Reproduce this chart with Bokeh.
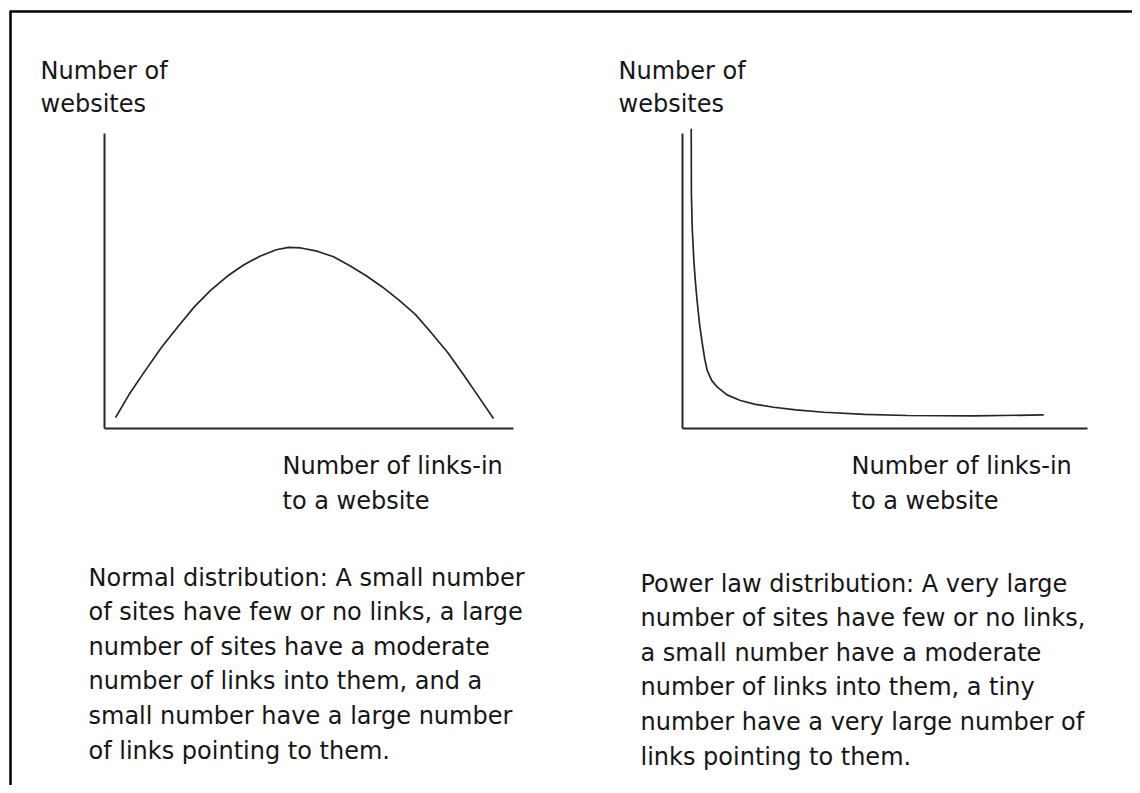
from bokeh.plotting import figure
from bokeh.models import Range1d, Label
from bokeh.embed import file_html
from bokeh.resources import INLINE

# ---------------- data ----------------
# Left chart: normal distribution (x: links-in, y: number of websites), 0..100 units
normal_x = [2.7, 6, 10, 14, 18, 22, 26, 30, 34, 38, 42, 45, 48, 52, 56, 60,
            64, 68, 72, 76, 80, 84, 88, 92, 95.1]
normal_y = [3.7, 11.5, 19.7, 27.6, 34.6, 41.3, 46.9, 51.6, 55.4, 58.4, 60.6, 61.4,
            61.2, 60.1, 58.2, 55.2, 51.8, 47.9, 43.5, 38.7, 32.3, 25.6, 17.8, 9.7, 3.4]

# Right chart: power law distribution, 0..100 units
power_x = [2.15, 2.2, 2.4, 2.8, 3.2, 3.6, 4.2, 4.9, 5.5, 6.1, 7.2, 8.6, 11, 14.3,
           18, 22.5, 28, 34.9, 45, 55.5, 72, 89.2]
power_y = [101.6, 79.5, 68, 56.9, 49.5, 43.4, 35.5, 28.7, 23.5, 19.7, 16.3, 14.0,
           11.4, 9.5, 8.2, 7.2, 6.3, 5.5, 4.8, 4.4, 4.3, 4.6]

y_title = ["Number of", "websites"]
x_title = ["Number of links-in", "to a website"]
normal_caption = [
    "Normal distribution: A small number",
    "of sites have few or no links, a large",
    "number of sites have a moderate",
    "number of links into them, and a",
    "small number have a large number",
    "of links pointing to them.",
]
power_caption = [
    "Power law distribution: A very large",
    "number of sites have few or no links,",
    "a small number have a moderate",
    "number of links into them, a tiny",
    "number have a very large number of",
    "links pointing to them.",
]

# ---------------- layout ----------------
W, H = 1132, 785
OFF = 0                   # picture -> plot pixel offset
FONT = "DejaVu Sans"
FS = "24px"
TXT = "#161616"
INK = "#262626"

p = figure(width=W, height=H, output_backend="svg", toolbar_location=None,
           x_range=Range1d(0, W), y_range=Range1d(H, 0),
           x_axis_location=None, y_axis_location=None, min_border=0,
           background_fill_color="white", border_fill_color="white")
p.grid.visible = False
p.outline_line_color = None


def add_panel_ranges(name, left, right, top, bottom):
    """Ranges mapping 0..100 data units onto a picture-pixel box."""
    l, r, t, b = left - OFF, right - OFF, top - OFF, bottom - OFF
    sx = 100.0 / (r - l)
    sy = 100.0 / (b - t)
    p.extra_x_ranges[name + "x"] = Range1d(-l * sx, (W - l) * sx)
    p.extra_y_ranges[name + "y"] = Range1d((b - H) * sy, b * sy)


panels = [
    dict(name="L", box=(104, 513, 133, 428), xs=normal_x, ys=normal_y,
         ytxt=(40, [70, 103]), xtxt=(282, [465, 500]),
         cap=(88, 577, normal_caption)),
    dict(name="R", box=(682, 1087, 133, 428), xs=power_x, ys=power_y,
         ytxt=(618, [70, 103]), xtxt=(851, [465, 500]),
         cap=(640, 583, power_caption)),
]

# outer frame (top and left edges)
p.segment(x0=[9, 10], y0=[11, 11], x1=[W, 10], y1=[11, H],
          line_color="black", line_width=2.5)

for pn in panels:
    n = pn["name"]
    add_panel_ranges(n, *pn["box"])
    kw = dict(x_range_name=n + "x", y_range_name=n + "y")
    # axes
    p.segment(x0=[0, 0], y0=[0, 0], x1=[100, 0], y1=[0, 100],
              line_color=INK, line_width=2, **kw)
    # curve
    p.line(pn["xs"], pn["ys"], line_color=INK, line_width=1.7, **kw)

    def lab(x, y, t):
        p.add_layout(Label(x=x - OFF, y=y - OFF, text=t, text_font=FONT,
                           text_font_size=FS, text_color=TXT,
                           text_baseline="middle", text_align="left"))

    tx, tys = pn["ytxt"]
    for t, ty in zip(y_title, tys):
        lab(tx, ty, t)
    tx, tys = pn["xtxt"]
    for t, ty in zip(x_title, tys):
        lab(tx, ty, t)
    cx, cy, lines = pn["cap"]
    for i, t in enumerate(lines):
        lab(cx, cy + i * 34.6, t)

open("out.html", "w").write(file_html(p, INLINE))
